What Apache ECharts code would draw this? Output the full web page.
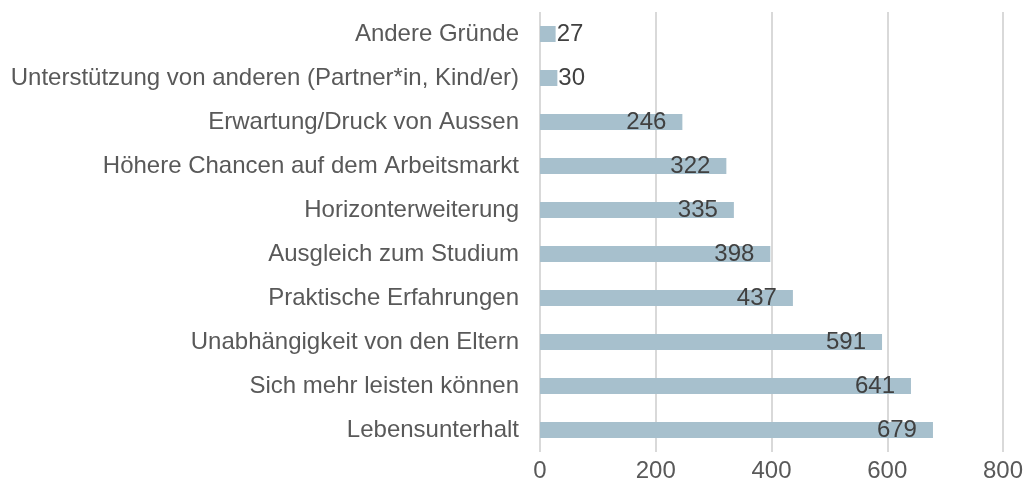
<!DOCTYPE html>
<html><head><meta charset="utf-8">
<script src="https://cdn.jsdelivr.net/npm/echarts@6/dist/echarts.min.js"></script>
<style>html,body{margin:0;padding:0;background:#fff}#c{width:1029px;height:494px}</style>
</head><body><div id="c"></div>
<script>
const categories = ["Lebensunterhalt","Sich mehr leisten können","Unabhängigkeit von den Eltern","Praktische Erfahrungen","Ausgleich zum Studium","Horizonterweiterung","Höhere Chancen auf dem Arbeitsmarkt","Erwartung/Druck von Aussen","Unterstützung von anderen (Partner*in, Kind/er)","Andere Gründe"];
const values = [679,641,591,437,398,335,322,246,30,27];
const xTicks = [0,200,400,600,800];

const FF = "'Liberation Sans', Arial, sans-serif";
const chart = echarts.init(document.getElementById('c'));
chart.setOption({
  animation:false,
  grid:{left:540,right:26,top:12,bottom:42,containLabel:false},
  xAxis:{type:'value',min:0,max:800,interval:200,
    axisLine:{show:false},axisTick:{show:false},
    axisLabel:{color:'#595959',fontSize:24,fontFamily:FF,margin:7},
    splitLine:{lineStyle:{color:'#d9d9d9',width:2}}},
  yAxis:{type:'category',data:categories,
    axisLine:{show:false},axisTick:{show:false},
    axisLabel:{color:'#595959',fontSize:24,fontFamily:FF,margin:21}},
  series:[{type:'bar',barWidth:16,itemStyle:{color:'#a7c0cd'},
    data:values.map(v=>v<100?{value:v,label:{position:'right',distance:1}}:v),
    label:{show:true,position:'insideRight',distance:16,color:'#404040',fontSize:24,fontFamily:FF}}]
});
</script></body></html>
